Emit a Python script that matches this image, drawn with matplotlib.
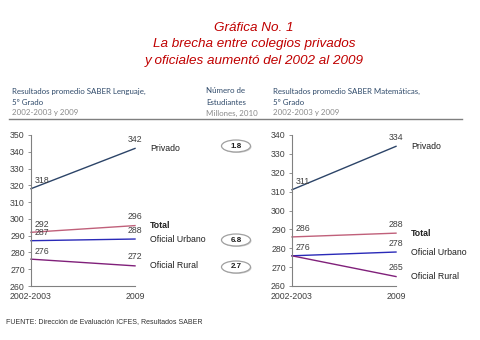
import matplotlib
matplotlib.use("Agg")
from matplotlib import pyplot as plt
from matplotlib.patches import Ellipse

plt.rcParams['font.family'] = ['Liberation Sans', 'DejaVu Sans']

# puntajes promedio SABER 5o grado
periodos = ['2002-2003', '2009']
sectores = ['Privado', 'Total', 'Oficial Urbano', 'Oficial Rural']
lenguaje = {
    'Privado': [318, 342],
    'Total': [292, 296],
    'Oficial Urbano': [287, 288],
    'Oficial Rural': [276, 272],
}
matematicas = {
    'Privado': [311, 334],
    'Total': [286, 288],
    'Oficial Urbano': [276, 278],
    'Oficial Rural': [276, 265],
}
# estudiantes por sector (millones, 2010)
estudiantes = {'Privado': '1.8', 'Oficial Urbano': '6.8', 'Oficial Rural': '2.7'}

colores = {
    'Privado': '#2c4468',
    'Total': '#c0607a',
    'Oficial Urbano': '#2a2ab8',
    'Oficial Rural': '#80207a',
}

W, H = 480, 340
fig = plt.figure(figsize=(W / 100, H / 100), dpi=100)
fig.patch.set_facecolor('white')

def fx(px):
    return px / W

def fy(py):
    return 1 - py / H

rojo = '#c00000'
titulo = ['Gráfica No. 1', 'La brecha entre colegios privados',
          'y oficiales aumentó del 2002 al 2009']
for k, t in enumerate(titulo):
    fig.text(fx(254), fy(28 + 16.5 * k), t, color=rojo, fontsize=9.7,
             style='italic', ha='center', va='center')

azul_txt = '#2f4a6a'
gris_txt = '#8a8a8a'
enc = [
    (12, ['Resultados promedio SABER Lenguaje,', '5º Grado', '2002-2003 y 2009']),
    (206, ['Número de', 'Estudiantes', 'Millones, 2010']),
    (273, ['Resultados promedio SABER Matemáticas,', '5º Grado', '2002-2003 y 2009']),
]
for x0, lineas in enc:
    for k, t in enumerate(lineas):
        fig.text(fx(x0), fy(91 + 11 * k), t, fontsize=5.7, family='Lato',
                 color=azul_txt if k < 2 else gris_txt, ha='left', va='center')

fig.add_artist(plt.Line2D([fx(9), fx(462)], [fy(119), fy(119)],
                          color='#7f7f7f', lw=1.0, transform=fig.transFigure))


def panel(x0, datos, ymin, ymax):
    ax = fig.add_axes([fx(x0), fy(286), fx(104), (286 - 135) / H])
    ax.set_xlim(0, 1)
    ax.set_ylim(ymin, ymax)
    ax.set_yticks(range(ymin, ymax + 1, 10))
    ax.set_xticks([0, 1])
    ax.set_xticklabels(periodos)
    for s in ['top', 'right']:
        ax.spines[s].set_visible(False)
    for s in ['left', 'bottom']:
        ax.spines[s].set_color('#808080')
        ax.spines[s].set_linewidth(0.8)
    ax.tick_params(axis='y', length=2.5, width=0.6, color='#808080',
                   labelsize=6.3, labelcolor='#404040', pad=2)
    ax.tick_params(axis='x', length=0, labelsize=6.3, labelcolor='#404040', pad=4)
    vistos = set()
    for s in sectores:
        v = datos[s]
        ax.plot([0, 1], v, color=colores[s], lw=1.0, clip_on=False)
        if v[0] not in vistos:
            ax.annotate(str(v[0]), (0, v[0]), xytext=(4, 8), textcoords='offset pixels',
                        fontsize=6.3, color='#404040', ha='left', va='center')
            vistos.add(v[0])
        ax.annotate(str(v[1]), (1, v[1]), xytext=(0, 9), textcoords='offset pixels',
                    fontsize=6.3, color='#404040', ha='center', va='center')
        ax.annotate(s, (1, v[1]), xytext=(15, 0), textcoords='offset pixels',
                    fontsize=6.3, color='#202020', ha='left', va='center',
                    fontweight='bold' if s == 'Total' else 'normal')
    return ax


panel(31, lenguaje, 260, 350)
panel(292, matematicas, 260, 340)

# burbujas con el numero de estudiantes
for s, py in [('Privado', 146), ('Oficial Urbano', 240), ('Oficial Rural', 267)]:
    sombra = Ellipse((fx(237), fy(py + 1)), fx(29), 12 / H, transform=fig.transFigure,
                     facecolor='#d0d0d0', edgecolor='none')
    fig.add_artist(sombra)
    e = Ellipse((fx(236), fy(py)), fx(29), 12 / H, transform=fig.transFigure,
                facecolor='white', edgecolor='#a0a0a0', lw=0.9)
    fig.add_artist(e)
    fig.text(fx(236), fy(py), estudiantes[s], fontsize=5.8, fontweight='bold',
             color='#202020', ha='center', va='center')

fig.text(fx(6), fy(322), 'FUENTE: Dirección de Evaluación ICFES, Resultados SABER',
         fontsize=5.0, color='#303030', ha='left', va='center')

fig.savefig('out.png', dpi=100, facecolor='white')
